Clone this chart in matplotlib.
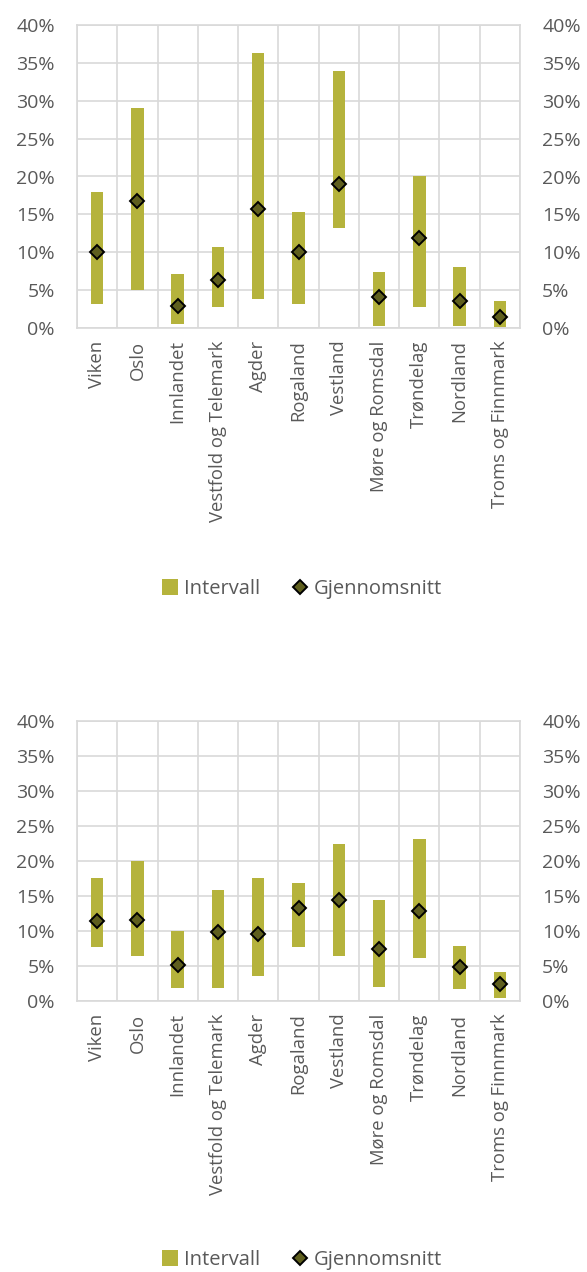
import matplotlib
matplotlib.use("Agg")
import matplotlib.pyplot as plt
from matplotlib.patches import Patch
from matplotlib.lines import Line2D
import numpy as np

plt.rcParams['font.family'] = ['Open Sans', 'DejaVu Sans']

regions = ["Viken", "Oslo", "Innlandet", "Vestfold og Telemark", "Agder",
           "Rogaland", "Vestland", "Møre og Romsdal", "Trøndelag",
           "Nordland", "Troms og Finnmark"]

# Upper panel: interval low/high and mean (%)
top_low = [3.2, 5.0, 0.5, 2.8, 3.8, 3.2, 13.2, 0.2, 2.8, 0.2, 0.1]
top_high = [17.9, 29.1, 7.1, 10.7, 36.3, 15.3, 33.9, 7.4, 20.0, 8.1, 3.6]
top_mean = [10.0, 16.8, 2.9, 6.4, 15.7, 10.0, 19.0, 4.1, 11.9, 3.6, 1.4]

# Lower panel
bot_low = [7.7, 6.4, 1.9, 1.9, 3.6, 7.7, 6.4, 2.0, 6.2, 1.7, 0.5]
bot_high = [17.6, 20.0, 10.0, 15.9, 17.5, 16.9, 22.4, 14.5, 23.1, 7.9, 4.1]
bot_mean = [11.4, 11.6, 5.2, 9.8, 9.6, 13.3, 14.4, 7.5, 12.8, 4.8, 2.4]

yticks = [0, 5, 10, 15, 20, 25, 30, 35, 40]
ytick_labels = ["0%", "5%", "10%", "15%", "20%", "25%", "30%", "35%", "40%"]

BAR = "#B5B33C"
MARK = "#5F5F1E"
GRID = "#D9D9D9"
TEXT = "#595959"
FS = 14
FS_CAT = 13.3
MS = 7.2

W, H = 587, 1272
fig = plt.figure(figsize=(W / 100, H / 100), dpi=100)


def panel(left, top, right, bottom, low, high, mean, legend_y):
    ax = fig.add_axes([left / W, 1 - bottom / H, (right - left) / W, (bottom - top) / H])
    x = np.arange(len(regions))
    low = np.array(low)
    high = np.array(high)
    ax.bar(x, high - low, bottom=low, width=0.31, color=BAR, zorder=3)
    ax.plot(x, mean, linestyle="none", marker="D", markersize=MS,
            markerfacecolor=MARK, markeredgecolor="black", markeredgewidth=1.4, zorder=4)
    ax.set_xlim(-0.5, len(regions) - 0.5)
    ax.set_ylim(0, 40)
    ax.set_yticks(yticks)
    ax.set_yticklabels(ytick_labels)
    ax.set_xticks(np.arange(len(regions) + 1) - 0.5, minor=True)
    ax.set_xticks(x)
    ax.set_xticklabels(regions, rotation=90)
    ax.grid(True, which="major", axis="y", color=GRID, linewidth=1.2, zorder=0)
    ax.grid(True, which="minor", axis="x", color=GRID, linewidth=1.2, zorder=0)
    ax.tick_params(which="both", length=0, colors=TEXT)
    ax.tick_params(axis="y", pad=16, labelsize=FS)
    ax.tick_params(axis="x", pad=9, labelsize=FS_CAT)
    for s in ax.spines.values():
        s.set_color(GRID)
        s.set_linewidth(1.2)

    ax2 = ax.twinx()
    ax2.set_ylim(0, 40)
    ax2.set_yticks(yticks)
    ax2.set_yticklabels(ytick_labels)
    ax2.tick_params(length=0, colors=TEXT, labelsize=FS, pad=16)
    for s in ax2.spines.values():
        s.set_visible(False)

    handles = [Patch(facecolor=BAR, edgecolor="none", label="Intervall"),
               Line2D([], [], linestyle="none", marker="D", markersize=MS,
                      markerfacecolor=MARK, markeredgecolor="black",
                      markeredgewidth=1.4, label="Gjennomsnitt")]
    fig.legend(handles=handles, loc="center", bbox_to_anchor=(302 / W, 1 - legend_y / H),
               ncol=2, frameon=False, fontsize=FS + 0.5, labelcolor=TEXT,
               handlelength=0.8, handleheight=0.8, handletextpad=0.3, columnspacing=1.6)


panel(77, 25, 520, 328, top_low, top_high, top_mean, 589)
panel(77, 721, 520, 1001, bot_low, bot_high, bot_mean, 1260)

fig.savefig("out.png", dpi=100, facecolor="white")
